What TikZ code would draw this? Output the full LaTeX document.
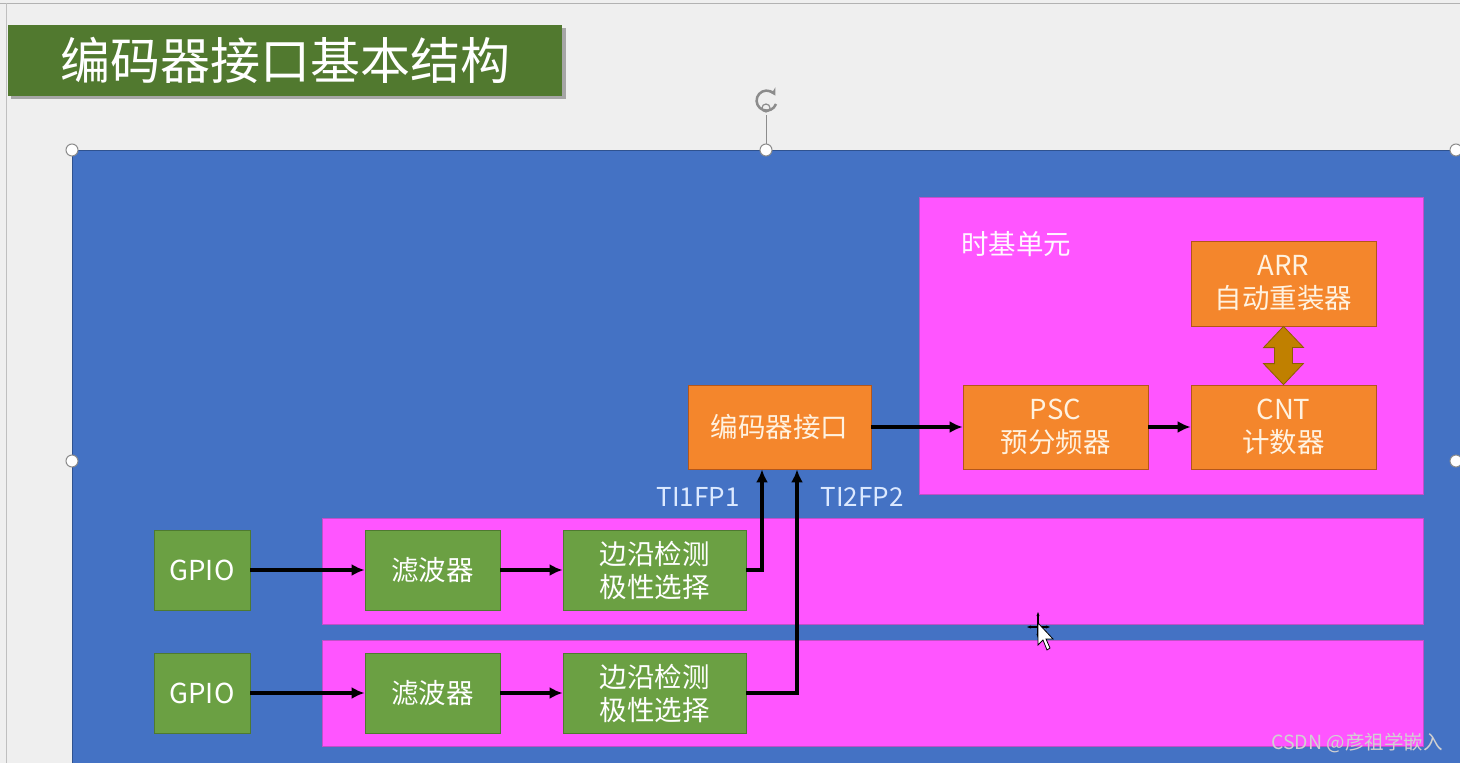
\documentclass[tikz,border=0pt]{standalone}
\usepackage{fontspec}
\setmainfont{Noto Sans CJK SC}
\usetikzlibrary{arrows.meta,calc}
\definecolor{slidebg}{HTML}{EFEFEF}
\definecolor{titlegreen}{HTML}{51792F}
\definecolor{bluebg}{HTML}{4472C4}
\definecolor{blueedge}{HTML}{2F528F}
\definecolor{pinkfill}{HTML}{FF55FF}
\definecolor{pinkedge}{HTML}{C050C8}
\definecolor{orangefill}{HTML}{F4862C}
\definecolor{orangeedge}{HTML}{B4561A}
\definecolor{greenfill}{HTML}{6BA043}
\definecolor{greenedge}{HTML}{4E7A30}
\definecolor{goldfill}{HTML}{C08000}
\definecolor{goldedge}{HTML}{8C6000}
\definecolor{lighttext}{HTML}{DCE9FF}
\definecolor{creamtext}{HTML}{FFF2E0}
\definecolor{handlegray}{HTML}{8C8C8C}
\tikzset{
  obox/.style={draw=orangeedge,line width=0.8pt,fill=orangefill,inner sep=0pt,
    text=creamtext,font=\fontsize{27.5}{33}\selectfont,align=center},
  gbox/.style={draw=greenedge,line width=0.8pt,fill=greenfill,inner sep=0pt,
    text=white,font=\fontsize{27.5}{33}\selectfont,align=center},
  pbox/.style={draw=pinkedge,line width=0.8pt,fill=pinkfill,inner sep=0pt},
  flow/.style={line width=3.5pt,-{Latex[length=13pt,width=12pt]}},
  handle/.style={circle,draw=handlegray,fill=white,line width=1pt,inner sep=0pt,minimum size=12pt},
  tilabel/.style={text=lighttext,font=\fontsize{26}{30}\selectfont,inner sep=0pt}
}
\begin{document}
\begin{tikzpicture}[x=1pt,y=-1pt]
\useasboundingbox (0,0) rectangle (1460,763);
\clip (0,0) rectangle (1460,763);
% slide background
\fill[slidebg] (0,0) rectangle (1460,763);
\draw[gray!60,line width=1pt] (0,3) -- (1460,3);
\draw[gray!50,line width=1pt] (6,3) -- (6,763);
% title
\fill[black!35] (11,28) rectangle (566,99);
\node[fill=titlegreen,minimum width=554pt,minimum height=71pt,inner sep=0pt,anchor=north west,
  text=white,font=\fontsize{50}{56}\selectfont] (title) at (8,25) {编码器接口基本结构};
% blue area
\node[draw=blueedge,line width=1pt,fill=bluebg,anchor=north west,minimum width=1400pt,minimum height=640pt,inner sep=0pt] (blue) at (72,150) {};
% time base unit
\node[pbox,minimum width=504pt,minimum height=297pt] (tb) at (1171,345.5) {};
\node[text=white!95!pinkfill,font=\fontsize{27.5}{31}\selectfont,anchor=west,inner sep=0pt] (tbl) at (961,244) {时基单元};
% rows
\node[pbox,minimum width=1101pt,minimum height=106pt] (row1) at (872.5,571) {};
\node[pbox,minimum width=1101pt,minimum height=106pt] (row2) at (872.5,693) {};
% orange boxes
\node[obox,minimum width=183pt,minimum height=84pt] (enc) at (779.5,427) {编码器接口};
\node[obox,minimum width=185pt,minimum height=84pt] (psc) at (1055.5,427) {PSC\\预分频器};
\node[obox,minimum width=185pt,minimum height=84pt] (cnt) at (1283.5,427) {CNT\\计数器};
\node[obox,minimum width=185pt,minimum height=85pt] (arr) at (1283.5,283.5) {ARR\\自动重装器};
% green boxes
\node[gbox,minimum width=96pt,minimum height=80pt] (gpio1) at (202,570) {GPIO};
\node[gbox,minimum width=96pt,minimum height=80pt] (gpio2) at (202,693) {GPIO};
\node[gbox,minimum width=135pt,minimum height=80pt] (filt1) at (432.5,570) {滤波器};
\node[gbox,minimum width=135pt,minimum height=80pt] (filt2) at (432.5,693) {滤波器};
\node[gbox,minimum width=183pt,minimum height=80pt] (edge1) at (654.5,570) {边沿检测\\极性选择};
\node[gbox,minimum width=183pt,minimum height=80pt] (edge2) at (654.5,693) {边沿检测\\极性选择};
% labels
\node[tilabel] (ti1) at (698,497) {TI1FP1};
\node[tilabel] (ti2) at (862,497) {TI2FP2};
% connectors
\draw[flow] (gpio1) -- (filt1);
\draw[flow] (filt1) -- (edge1);
\draw[flow] (gpio2) -- (filt2);
\draw[flow] (filt2) -- (edge2);
\draw[flow] (edge1.east) -| ([xshift=-17.5pt]enc.south);
\draw[flow] (edge2.east) -| ([xshift=17.5pt]enc.south);
\draw[flow] (enc) -- (psc);
\draw[flow] (psc) -- (cnt);
% double arrow ARR <-> CNT
\coordinate (dtop) at (arr.south);
\coordinate (dbot) at (cnt.north);
\filldraw[fill=goldfill,draw=goldedge,line width=0.8pt]
  (dtop) -- ++(20,21) -- ++(-11,0) -- ++(0,16) -- ++(11,0) -- (dbot)
  -- ++(-20,-21) -- ++(11,0) -- ++(0,-16) -- ++(-11,0) -- cycle;
% selection handles
\draw[handlegray,line width=1pt] (766,115) -- (766,150);
\draw[handlegray,line width=2.5pt,-{Stealth[length=7pt,width=8pt]}] (776,104) arc (20:330:10);
\draw[handlegray,line width=1.2pt] (766,108) circle (4);
\node[handle] (h1) at (72,150) {};
\node[handle] (h2) at (766,150) {};
\node[handle] (h3) at (72,461) {};
\node[handle] (h4) at (1456,150) {};
\node[handle] (h5) at (1456,461) {};
% mouse cursor
\draw[black,line width=1.2pt,{Stealth[length=4pt]}-{Stealth[length=4pt]}] (1027,627) -- (1050,627);
\draw[black,line width=1.2pt,{Stealth[length=4pt]}-{Stealth[length=4pt]}] (1038,612) -- (1038,638);
\filldraw[fill=white,draw=black,line width=0.8pt]
  (1038,623) -- (1038,645) -- (1043,640) -- (1047,650) -- (1050,648) -- (1046,639) -- (1053,639) -- cycle;
% watermark
\node[text=white!82!black,font=\fontsize{19.5}{22}\selectfont,anchor=east,inner sep=0pt] (wm) at (1443,743) {CSDN @彦祖学嵌入};
\end{tikzpicture}
\end{document}
